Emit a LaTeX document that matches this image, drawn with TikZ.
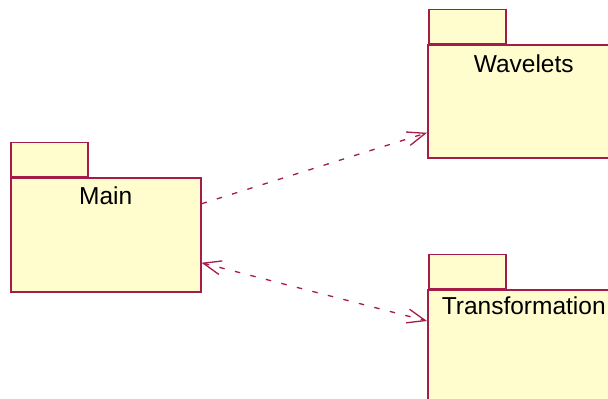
\documentclass[tikz,border=0pt]{standalone}
\usepackage{fontspec}
\setmainfont{Liberation Sans}
\usetikzlibrary{arrows.meta}
\definecolor{pkgline}{RGB}{165,28,72}
\definecolor{pkgfill}{RGB}{255,253,206}
\tikzset{
  pkgbody/.style={draw=pkgline, fill=pkgfill, line width=1.5pt,
    minimum width=190pt, minimum height=114pt, inner sep=0pt, anchor=north west},
  pkgtab/.style={draw=pkgline, fill=pkgfill, line width=1.5pt,
    minimum width=77pt, minimum height=34pt, inner sep=0pt, anchor=south west},
  pkgname/.style={font=\fontsize{24.5pt}{28pt}\selectfont, inner sep=0pt, anchor=base},
  dep/.style={draw=pkgline, line width=1.3pt, dash pattern=on 5.5pt off 10.5pt,
    -{Straight Barb[length=18pt,width=14pt,line width=1.3pt]}},
}
\begin{document}
\begin{tikzpicture}[x=1pt,y=-1pt]
  \useasboundingbox (0,0) rectangle (608,399);
  \clip (0,0) rectangle (608,399);
  \fill[white] (0,0) rectangle (608,399);

  % package Main
  \node[pkgtab]  (maintab)  at (10,177) {};
  \node[pkgbody] (main)     at (10,177) {};
  \node[pkgname] (mainname) at ([yshift=-27pt]main.north) {Main};

  % package Wavelets
  \node[pkgtab]  (wavtab)  at (428,44) {};
  \node[pkgbody, minimum width=192pt, minimum height=113pt] (wav) at (427,44) {};
  \node[pkgname] (wavname) at ([yshift=-28pt]wav.north) {Wavelets};

  % package Transformation
  \node[pkgtab]  (trftab)  at (428,289) {};
  \node[pkgbody, minimum width=192pt] (trf) at (427,289) {};
  \node[pkgname] (trfname) at ([yshift=-25pt]trf.north) {Transformation};

  % dependencies
  \draw[dep] ([yshift=31pt]main.east) -- ([yshift=-31.5pt]wav.east -| wav.west);
  \draw[dep, {Straight Barb[length=18pt,width=14pt,line width=1.3pt]}-{Straight Barb[length=18pt,width=14pt,line width=1.3pt]}]
    ([yshift=-28pt]main.east) -- ([yshift=-32pt]trf.north west);
\end{tikzpicture}
\end{document}
